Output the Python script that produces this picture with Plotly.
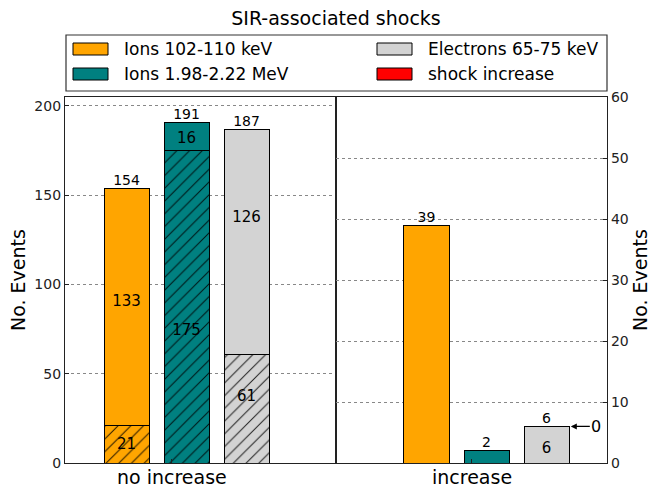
import plotly.graph_objects as go

# ---------------- data ----------------
panel_labels = ["no increase", "increase"]
series_names = ["Ions 102-110 keV", "Ions 1.98-2.22 MeV", "Electrons 65-75 keV"]
shock_name = "shock increase"
axis_title = "No. Events"
no_increase_hatched = [21, 175, 61]
no_increase_plain = [133, 16, 126]
increase_counts = [39, 2, 6]
increase_inner_label = [False, False, True]
shock_increase_electrons = 0
left_ticks = [0, 50, 100, 150, 200]
right_ticks = [0, 10, 20, 30, 40, 50, 60]

# ---------------- style ----------------
colors = ["#FFA500", "#008080", "#D3D3D3"]
shock_color = "#FF0000"
FONT = "DejaVu Sans"
W, H = 651, 488
ML, MR, MT, MB = 65, 44, 97, 25
PW, PH = W - ML - MR, H - MT - MB
BAR_W = 0.75
TICK_POS = 0.75
# vertical placement (axis units) of the in-bar labels, as placed in the original
hatched_label_at = [10, 74, 37]
plain_label_at = [90, 181.5, 137]
increase_label_at = [None, None, 2.3]


def px(xpix):
    return (xpix - ML) / PW


def py(ypix):
    return (H - MB - ypix) / PH


pos = list(range(len(series_names)))
no_inc_total = [a + b for a, b in zip(no_increase_hatched, no_increase_plain)]

fig = go.Figure()

for i, name in enumerate(series_names):
    col = colors[i]
    fig.add_trace(go.Bar(
        x=[pos[i]], y=[no_increase_hatched[i]], width=BAR_W, xaxis="x", yaxis="y",
        marker=dict(color=col, line=dict(color="black", width=1),
                    pattern=dict(shape="/", fillmode="overlay", bgcolor=col,
                                 fgcolor="black", fgopacity=0.85, size=9, solidity=0.11)),
        name=name, showlegend=False, hoverinfo="skip"))
    fig.add_trace(go.Bar(
        x=[pos[i]], y=[no_increase_plain[i]], width=BAR_W, xaxis="x", yaxis="y",
        marker=dict(color=col, line=dict(color="black", width=1)),
        name=name, showlegend=False, hoverinfo="skip"))

# in-bar labels, left panel
fig.add_trace(go.Scatter(
    x=pos + pos, y=hatched_label_at + plain_label_at, xaxis="x", yaxis="y",
    mode="text", text=[str(v) for v in no_increase_hatched + no_increase_plain],
    textposition="middle center", textfont=dict(family=FONT, size=15, color="black"),
    showlegend=False, hoverinfo="skip"))
# left panel totals
fig.add_trace(go.Scatter(
    x=pos, y=no_inc_total, xaxis="x", yaxis="y", mode="text",
    text=[str(v) for v in no_inc_total], textposition="top center",
    textfont=dict(family=FONT, size=14, color="black"),
    showlegend=False, hoverinfo="skip", cliponaxis=False))

# right panel bars
fig.add_trace(go.Bar(
    x=pos, y=increase_counts, width=BAR_W, xaxis="x2", yaxis="y2",
    marker=dict(color=colors, line=dict(color="black", width=1)),
    showlegend=False, hoverinfo="skip"))
inner_x = [p for p, s in zip(pos, increase_inner_label) if s]
inner_y = [y for y, s in zip(increase_label_at, increase_inner_label) if s]
inner_t = [str(v) for v, s in zip(increase_counts, increase_inner_label) if s]
fig.add_trace(go.Scatter(
    x=inner_x, y=inner_y, xaxis="x2", yaxis="y2", mode="text", text=inner_t,
    textposition="middle center", textfont=dict(family=FONT, size=15, color="black"),
    showlegend=False, hoverinfo="skip"))
fig.add_trace(go.Scatter(
    x=pos, y=increase_counts, xaxis="x2", yaxis="y2", mode="text",
    text=[str(v) for v in increase_counts], textposition="top center",
    textfont=dict(family=FONT, size=14, color="black"),
    showlegend=False, hoverinfo="skip", cliponaxis=False))

# arrow for shock increase (electrons)
fig.add_annotation(
    x=pos[2] + BAR_W / 2 + 0.03, y=increase_counts[2], xref="x2", yref="y2",
    ax=pos[2] + 0.83, ay=increase_counts[2], axref="x2", ayref="y2",
    text=str(shock_increase_electrons), showarrow=True, arrowhead=2,
    arrowsize=1, arrowwidth=1.2, arrowcolor="black",
    font=dict(family=FONT, size=16, color="black"))

axis_common = dict(showline=True, linecolor="#222", linewidth=1.2, mirror=True,
                   ticks="inside", ticklen=4, tickcolor="#222", zeroline=False,
                   automargin=False)
ytickfont = dict(family=FONT, size=14, color="#222")
grid = dict(showgrid=True, gridcolor="#888", griddash="dot", gridwidth=1)

fig.update_layout(
    width=W, height=H, margin=dict(l=ML, r=MR, t=MT, b=MB, autoexpand=False),
    paper_bgcolor="white", plot_bgcolor="white", barmode="stack",
    font=dict(family=FONT, color="black"),
    title=dict(text="SIR-associated shocks", x=0.5 * (ML + W - MR) / W, xanchor="center",
               y=1 - 18 / H, yanchor="middle",
               font=dict(family=FONT, size=19, color="black")),
    xaxis=dict(domain=[0, 0.5], range=[-1.025, 3.49], anchor="y",
               tickvals=[TICK_POS], showticklabels=False, showgrid=False, **axis_common),
    xaxis2=dict(domain=[0.5, 1], range=[-1.508, 3.008], anchor="y2",
                tickvals=[TICK_POS], showticklabels=False, showgrid=False, **axis_common),
    yaxis=dict(range=[0, 205], anchor="x", tickvals=left_ticks,
               tickfont=ytickfont, **axis_common, **grid),
    yaxis2=dict(range=[0, 60], anchor="x2", side="right", tickvals=right_ticks,
                tickfont=ytickfont, **axis_common, **grid),
)

# x category labels (one per panel)
for xref, label in zip(("x", "x2"), panel_labels):
    fig.add_annotation(xref=xref, yref="paper", x=TICK_POS, y=py(477),
                       xanchor="center", yanchor="middle", showarrow=False,
                       text=label, font=dict(family=FONT, size=19, color="black"))

# axis titles
for xc in (18, 640):
    fig.add_annotation(xref="paper", yref="paper", x=px(xc), y=0.5,
                       xanchor="center", yanchor="middle", textangle=-90,
                       showarrow=False, text=axis_title,
                       font=dict(family=FONT, size=19, color="black"))

# ---------------- legend (drawn box) ----------------
fig.add_shape(type="rect", xref="paper", yref="paper",
              x0=px(66), x1=px(607), y0=py(91), y1=py(35),
              line=dict(color="#333", width=1.2), fillcolor="white")
legend_items = [
    (series_names[0], colors[0], 73, 49),
    (series_names[1], colors[1], 73, 74),
    (series_names[2], colors[2], 377, 49),
    (shock_name, shock_color, 377, 74),
]
for name, col, x0, yc in legend_items:
    fig.add_shape(type="rect", xref="paper", yref="paper",
                  x0=px(x0), x1=px(x0 + 35), y0=py(yc + 6), y1=py(yc - 6),
                  line=dict(color="black", width=1), fillcolor=col)
    fig.add_annotation(xref="paper", yref="paper", x=px(x0 + 49), y=py(yc),
                       xanchor="left", yanchor="middle", showarrow=False,
                       text=name, font=dict(family=FONT, size=17, color="black"))

fig.write_html(
    "out.html",
    config={"displayModeBar": False},
    post_script="document.body.style.margin='0';document.body.style.overflow='hidden';",
)
